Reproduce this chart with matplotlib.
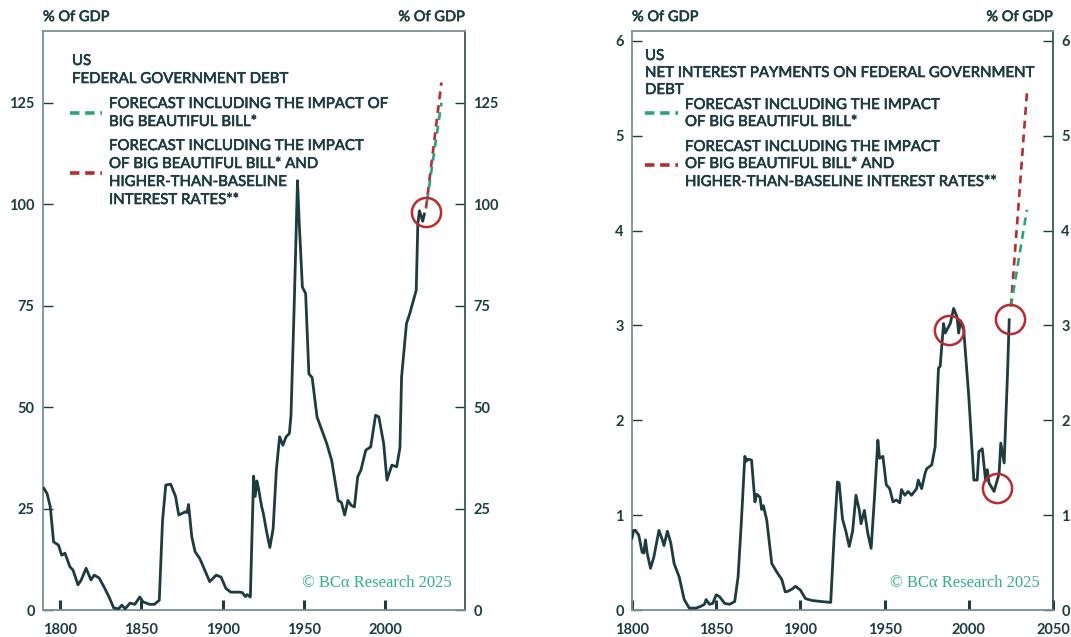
import matplotlib
matplotlib.use("Agg")
import matplotlib.pyplot as plt
import matplotlib.patheffects as pe
from matplotlib.lines import Line2D

plt.rcParams['font.family'] = ['Lato', 'DejaVu Sans']

INK = '#1c3c40'
SPINE = '#7d9094'
GREEN = '#1fa878'
RED = '#c1272d'
MARK = '#2db38a'
THICKEN = [pe.withStroke(linewidth=0.45, foreground=INK)]

# Federal government debt, % of GDP
debt_years = [1790, 1792, 1794, 1796, 1799, 1801, 1803, 1806, 1808, 1811, 1813, 1816,
              1819, 1821, 1824, 1827, 1830, 1833, 1836, 1838, 1840, 1843, 1846, 1849,
              1851, 1855, 1858, 1861, 1863, 1865, 1868, 1871, 1873, 1877, 1878, 1879,
              1881, 1883, 1886, 1889, 1892, 1896, 1899, 1902, 1905, 1910, 1912, 1914,
              1915, 1917, 1919, 1920, 1921, 1922, 1924, 1925, 1927, 1929, 1931, 1933,
              1935, 1937, 1939, 1941, 1942, 1944, 1946, 1947, 1949, 1951, 1953, 1955,
              1958, 1961, 1964, 1967, 1969, 1971, 1973, 1975, 1977, 1979, 1981, 1983,
              1985, 1988, 1991, 1994, 1996, 1999, 2001, 2004, 2007, 2009, 2010, 2013,
              2015, 2017, 2019, 2020, 2021, 2023, 2024]
debt_values = [30.0, 28.7, 25.4, 16.8, 16.0, 13.5, 14.0, 10.7, 9.8, 6.2, 7.4, 10.3,
               7.4, 8.6, 7.9, 5.7, 3.3, 0.5, 0.3, 1.2, 0.3, 1.7, 1.4, 3.2,
               2.0, 1.4, 1.4, 2.4, 22.0, 30.8, 31.0, 28.0, 23.4, 24.2, 24.0, 26.0,
               18.0, 14.4, 12.6, 9.8, 7.0, 8.6, 8.1, 5.3, 4.4, 4.4, 4.3, 3.3,
               3.8, 3.2, 33.0, 28.0, 31.8, 30.0, 25.4, 23.8, 19.3, 15.4, 20.0, 34.5,
               42.7, 40.6, 42.7, 43.5, 48.0, 75.5, 105.8, 96.0, 79.6, 78.0, 58.2, 57.3,
               47.6, 44.3, 41.0, 36.9, 32.0, 27.0, 26.5, 23.4, 27.0, 25.8, 25.4, 32.8,
               34.5, 39.4, 40.2, 48.0, 47.6, 41.0, 32.0, 35.7, 35.3, 40.0, 57.4, 70.6,
               73.0, 75.9, 78.8, 95.2, 98.4, 95.8, 97.6]

# Net interest payments on federal debt, % of GDP
int_years = [1800, 1801, 1802, 1804, 1806, 1807, 1808, 1809, 1811, 1813, 1816, 1818,
             1819, 1821, 1823, 1825, 1828, 1831, 1834, 1838, 1841, 1843, 1844, 1846,
             1848, 1850, 1852, 1855, 1858, 1861, 1863, 1865, 1867, 1868, 1869, 1871,
             1873, 1874, 1876, 1877, 1878, 1880, 1883, 1886, 1889, 1891, 1893, 1895,
             1897, 1900, 1903, 1907, 1912, 1918, 1920, 1922, 1923, 1925, 1927, 1929,
             1931, 1933, 1935, 1936, 1938, 1940, 1942, 1944, 1946, 1947, 1949, 1951,
             1953, 1955, 1957, 1959, 1960, 1962, 1964, 1966, 1969, 1970, 1972, 1974,
             1975, 1978, 1980, 1982, 1983, 1985, 1986, 1989, 1991, 1993, 1994, 1995,
             1997, 2000, 2003, 2005, 2006, 2008, 2010, 2011, 2012, 2015, 2018, 2019,
             2021, 2023, 2024]
int_values = [0.76, 0.84, 0.84, 0.79, 0.61, 0.60, 0.74, 0.60, 0.44, 0.56, 0.84, 0.74,
              0.68, 0.83, 0.71, 0.49, 0.35, 0.11, 0.02, 0.02, 0.04, 0.06, 0.11, 0.06,
              0.07, 0.16, 0.14, 0.07, 0.06, 0.09, 0.35, 0.95, 1.62, 1.57, 1.59, 1.58,
              1.14, 1.22, 1.19, 1.06, 1.10, 0.95, 0.49, 0.40, 0.32, 0.19, 0.20, 0.22,
              0.25, 0.21, 0.12, 0.10, 0.09, 0.08, 0.77, 1.35, 1.34, 0.96, 0.83, 0.67,
              0.83, 1.21, 1.05, 0.91, 1.05, 0.81, 0.65, 1.19, 1.79, 1.60, 1.62, 1.32,
              1.28, 1.14, 1.16, 1.13, 1.27, 1.21, 1.25, 1.21, 1.28, 1.37, 1.28, 1.44,
              1.49, 1.53, 1.72, 2.55, 2.57, 3.02, 2.92, 3.02, 3.18, 3.09, 2.92, 3.05,
              2.95, 2.25, 1.37, 1.37, 1.67, 1.70, 1.36, 1.48, 1.34, 1.25, 1.44, 1.76,
              1.55, 2.50, 3.06]

# Forecast paths
fc_years = [2025, 2034.5]
debt_bbb = [99.0, 125.0]
debt_bbb_rates = [99.0, 130.0]
int_bbb = [3.2, 4.22]
int_bbb_rates = [3.2, 5.45]

# Highlighted points
debt_circles = [(2024.9, 98.0)]
int_circles = [(1988.3, 2.95), (2016.6, 1.29), (2024.6, 3.07)]

debt_yticks = [0, 25, 50, 75, 100, 125]
int_yticks = [0, 1, 2, 3, 4, 5, 6]


def style_axes(ax, xticks, yticks):
    ax.set_xticks(xticks)
    ax.set_yticks(yticks)
    ax.tick_params(axis='y', direction='in', length=7, width=1, color=INK,
                   left=True, right=True, labelleft=True, labelright=True,
                   labelsize=10.5, labelcolor=INK, pad=6)
    ax.tick_params(axis='x', direction='in', length=7, width=2.2, color=INK,
                   labelsize=10.5, labelcolor=INK, pad=9)
    for lbl in ax.get_xticklabels() + ax.get_yticklabels():
        lbl.set_fontweight('bold')
    for side, sp in ax.spines.items():
        sp.set_color(SPINE)
        sp.set_linewidth(1.3)
    ax.spines['right'].set_color('#3a575c')
    for x, ha in ((0, 'left'), (1, 'right')):
        ax.text(x, 1.012, '% Of GDP', transform=ax.transAxes, ha=ha, va='bottom',
                fontsize=10.5, color=INK, path_effects=THICKEN)


def legend_dash(ax, x0, x1, y, color):
    ax.add_line(Line2D([x0, x1], [y, y], transform=ax.transAxes, color=color,
                       lw=2.6, dashes=(2.6, 1.6), clip_on=False))


def label(ax, x, y, s):
    ax.text(x, y, s, transform=ax.transAxes, ha='left', va='center',
            fontsize=10.8, color=INK, path_effects=THICKEN)


def circles(ax, pts):
    for x, y in pts:
        ax.plot([x], [y], marker='o', ms=21, mfc='none', mec=RED, mew=1.8, zorder=5)


def watermark(ax):
    ax.text(0.969, 0.046, '\u00a9 BC\u03b1 Research 2025', transform=ax.transAxes,
            ha='right', va='center', fontsize=12, color=MARK,
            family=['Liberation Serif', 'DejaVu Serif'])


fig = plt.figure(figsize=(10.71, 6.37), dpi=100)

# Left: federal debt
ax1 = fig.add_axes([43 / 1071, 27 / 637, 422 / 1071, 579 / 637])
ax1.plot(debt_years, debt_values, color=INK, lw=2.0, solid_joinstyle='round', zorder=3)
ax1.plot(fc_years, debt_bbb_rates, color=RED, lw=1.9, linestyle=(0, (3, 2.2)), zorder=2)
ax1.plot(fc_years, debt_bbb, color=GREEN, lw=1.9, linestyle=(2.6, (3, 2.2)), zorder=2)
circles(ax1, debt_circles)
ax1.set_xlim(1789.5, 2049)
ax1.set_ylim(0, 142.7)
style_axes(ax1, [1800, 1850, 1900, 1950, 2000], debt_yticks)

ax_px = {}


def fx(ax, px):
    return (px - ax_px[ax][0]) / ax_px[ax][2]


def fy(ax, py):
    return 1 - (py - 31) / 579


ax_px[ax1] = (43, 31, 422)
label(ax1, fx(ax1, 72), fy(ax1, 61), 'US')
label(ax1, fx(ax1, 72), fy(ax1, 79), 'FEDERAL GOVERNMENT DEBT')
legend_dash(ax1, fx(ax1, 70), fx(ax1, 102), fy(ax1, 113), GREEN)
label(ax1, fx(ax1, 109), fy(ax1, 104), 'FORECAST INCLUDING THE IMPACT OF')
label(ax1, fx(ax1, 109), fy(ax1, 122), 'BIG BEAUTIFUL BILL*')
legend_dash(ax1, fx(ax1, 70), fx(ax1, 102), fy(ax1, 173), RED)
label(ax1, fx(ax1, 109), fy(ax1, 146), 'FORECAST INCLUDING THE IMPACT')
label(ax1, fx(ax1, 109), fy(ax1, 164), 'OF BIG BEAUTIFUL BILL* AND')
label(ax1, fx(ax1, 109), fy(ax1, 182), 'HIGHER-THAN-BASELINE')
label(ax1, fx(ax1, 109), fy(ax1, 200), 'INTEREST RATES**')
watermark(ax1)

# Right: net interest payments
ax2 = fig.add_axes([632 / 1071, 27 / 637, 421 / 1071, 579 / 637])
ax2.plot(int_years, int_values, color=INK, lw=2.0, solid_joinstyle='round', zorder=3)
ax2.plot(fc_years, int_bbb_rates, color=RED, lw=1.9, linestyle=(0, (3, 2.2)), zorder=2)
ax2.plot(fc_years, int_bbb, color=GREEN, lw=1.9, linestyle=(0, (3, 2.2)), zorder=2)
circles(ax2, int_circles)
ax2.set_xlim(1800, 2050)
ax2.set_ylim(0, 6.105)
style_axes(ax2, [1800, 1850, 1900, 1950, 2000, 2050], int_yticks)

ax_px[ax2] = (632, 31, 421)
label(ax2, fx(ax2, 645), fy(ax2, 56), 'US')
label(ax2, fx(ax2, 645), fy(ax2, 73), 'NET INTEREST PAYMENTS ON FEDERAL GOVERNMENT')
label(ax2, fx(ax2, 645), fy(ax2, 90), 'DEBT')
legend_dash(ax2, fx(ax2, 645), fx(ax2, 678), fy(ax2, 113), GREEN)
label(ax2, fx(ax2, 685), fy(ax2, 105), 'FORECAST INCLUDING THE IMPACT')
label(ax2, fx(ax2, 685), fy(ax2, 122), 'OF BIG BEAUTIFUL BILL*')
legend_dash(ax2, fx(ax2, 645), fx(ax2, 678), fy(ax2, 165), RED)
label(ax2, fx(ax2, 685), fy(ax2, 147), 'FORECAST INCLUDING THE IMPACT')
label(ax2, fx(ax2, 685), fy(ax2, 164), 'OF BIG BEAUTIFUL BILL* AND')
label(ax2, fx(ax2, 685), fy(ax2, 182), 'HIGHER-THAN-BASELINE INTEREST RATES**')
watermark(ax2)

fig.savefig('out.png', dpi=100)
